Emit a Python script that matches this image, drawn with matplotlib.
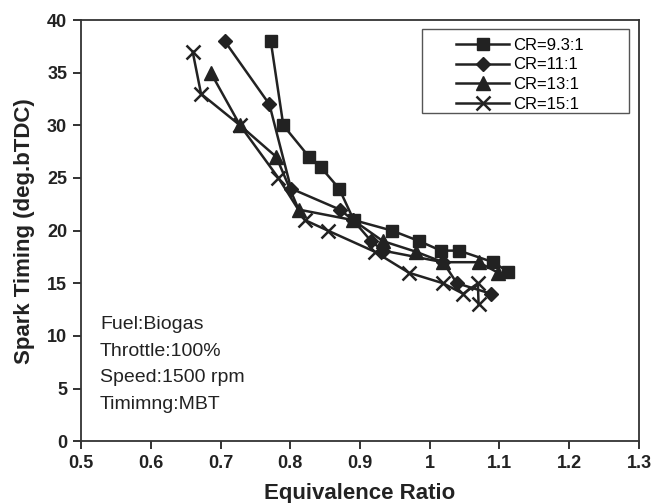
import matplotlib
matplotlib.use('Agg')
import matplotlib.pyplot as plt
from matplotlib.patches import Rectangle

plt.rcParams['font.family'] = ['Liberation Sans', 'DejaVu Sans']

# 당량비 - 점화시기 데이터
er_93 = [0.772, 0.790, 0.827, 0.844, 0.870, 0.891, 0.946, 0.985, 1.016, 1.042, 1.091, 1.112]
st_93 = [38, 30, 27, 26, 24, 21, 20, 19, 18.1, 18.1, 17, 16.1]

er_11 = [0.706, 0.770, 0.801, 0.871, 0.890, 0.916, 0.933, 1.019, 1.039, 1.088]
st_11 = [38, 32, 24, 22, 21, 19, 18.1, 17, 15, 14]

er_13 = [0.686, 0.728, 0.780, 0.812, 0.890, 0.933, 0.980, 1.019, 1.070, 1.098]
st_13 = [35, 30, 27, 22, 21, 19, 18, 17, 17, 16]

er_15 = [0.660, 0.672, 0.728, 0.783, 0.821, 0.854, 0.921, 0.970, 1.019, 1.048, 1.069, 1.070]
st_15 = [37, 33, 30, 25, 21, 20, 18, 16, 15, 14, 15, 13]

labels = ['CR=9.3:1', 'CR=11:1', 'CR=13:1', 'CR=15:1']
notes = ['Fuel:Biogas', 'Throttle:100%', 'Speed:1500 rpm', 'Timimng:MBT']

fig = plt.figure(figsize=(6.54, 5.03), dpi=100)
ax = fig.add_axes([0.124, 0.123, 0.853, 0.837])

c = '#222222'
ax.plot(er_93, st_93, '-s', color=c, lw=1.8, ms=8.5, label=labels[0])
ax.plot(er_11, st_11, '-D', color=c, lw=1.8, ms=7.5, label=labels[1])
ax.plot(er_13, st_13, '-^', color=c, lw=1.8, ms=9.5, label=labels[2])
ax.plot(er_15, st_15, '-x', color=c, lw=1.8, ms=10, mew=1.8, label=labels[3])

ax.set_xlim(0.5, 1.3)
ax.set_ylim(0, 40)
ax.set_xticks([0.5, 0.6, 0.7, 0.8, 0.9, 1.0, 1.1, 1.2, 1.3])
ax.set_xticklabels(['0.5', '0.6', '0.7', '0.8', '0.9', '1', '1.1', '1.2', '1.3'])
ax.set_yticks(range(0, 41, 5))
ax.tick_params(direction='out', length=6, width=1.3, labelsize=13, colors=c, pad=4)
for t in ax.get_xticklabels() + ax.get_yticklabels():
    t.set_fontweight('bold')
for s in ax.spines.values():
    s.set_linewidth(1.3)
    s.set_color('#333333')

ax.set_xlabel('Equivalence Ratio', fontsize=16, fontweight='bold', color=c, labelpad=8)
ax.set_ylabel('Spark Timing (deg.bTDC)', fontsize=16, fontweight='bold', color=c, labelpad=9)

# 범례 (테두리는 따로 그림)
leg = ax.legend(loc='upper left', bbox_to_anchor=(0.672, 0.958), fontsize=12,
                frameon=False, handlelength=3.2, labelspacing=0.28,
                handletextpad=0.2, borderpad=0, borderaxespad=0)
ax.add_patch(Rectangle((0.611, 0.779), 0.371, 0.2, transform=ax.transAxes,
                       fill=False, edgecolor='#555555', lw=1.0))

for i, n in enumerate(notes):
    ax.text(0.527, 11.1 - i * 2.55, n, fontsize=14, color=c, va='center')

fig.savefig('out.png', dpi=100)
